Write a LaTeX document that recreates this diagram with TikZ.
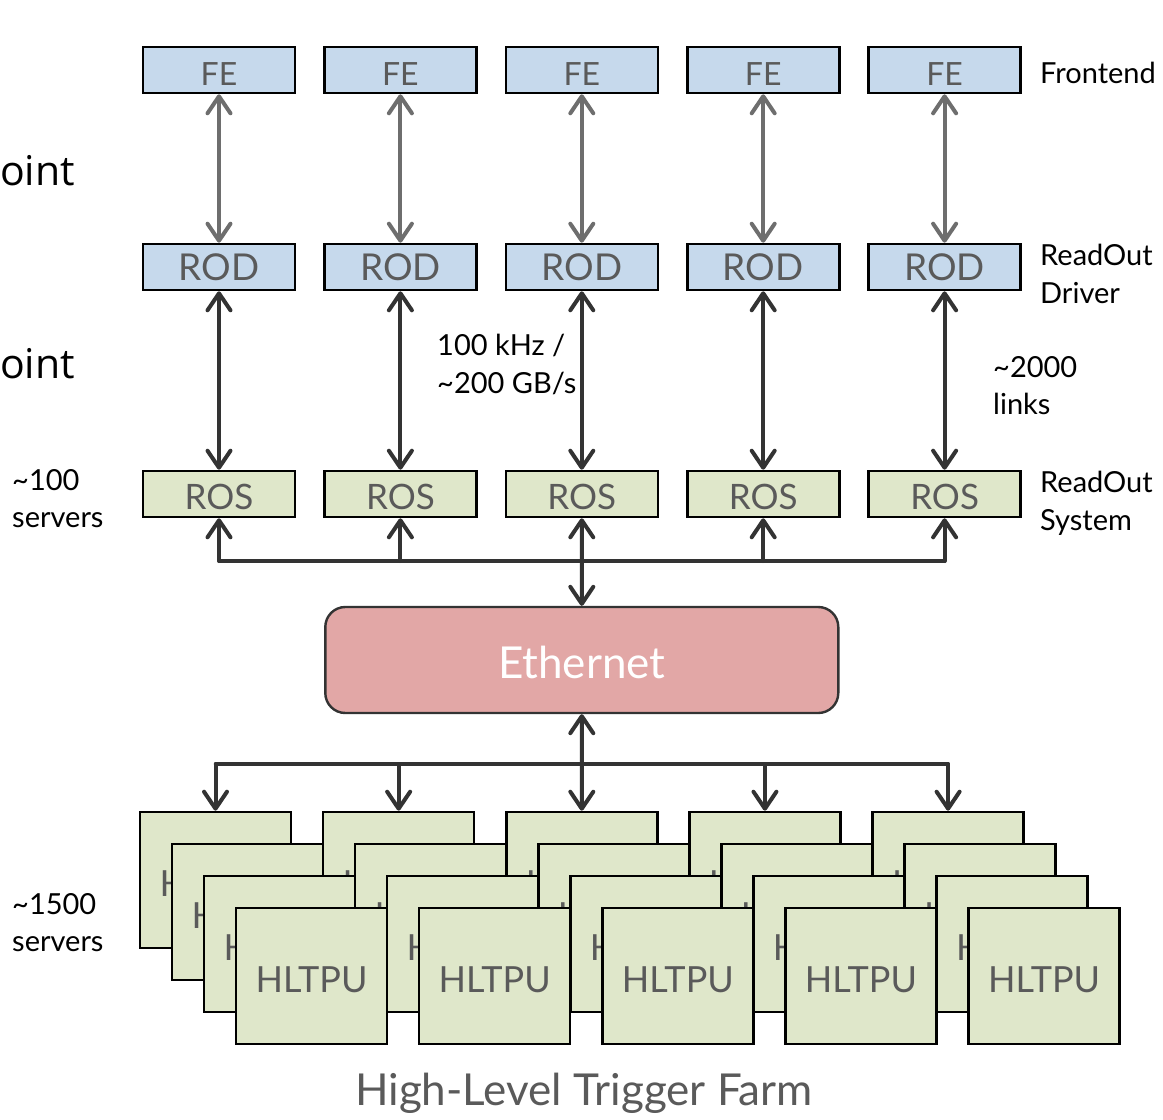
\documentclass[tikz,border=0pt]{standalone}
\usepackage{fontspec}
\setmainfont{Lato}
\newfontfamily\slidefont{Open Sans}
\usetikzlibrary{arrows.meta}

\definecolor{feblue}{HTML}{C6D9EC}
\definecolor{rosgreen}{HTML}{DFE7CA}
\definecolor{ethred}{HTML}{E2A7A6}
\definecolor{boxtext}{HTML}{5A5A5A}
\definecolor{lightarrow}{HTML}{6E6E6E}
\definecolor{darkarrow}{HTML}{333333}

\begin{document}
\begin{tikzpicture}[x=1pt, y=-1pt,
febox/.style={draw=black, line width=2.6pt, fill=feblue, minimum width=152pt, minimum height=46pt, inner sep=0pt, text=boxtext},
rosbox/.style={febox, fill=rosgreen},
pubox/.style={draw=black, line width=2.6pt, fill=rosgreen, minimum width=151pt, minimum height=136pt, inner sep=0pt, text=boxtext, text height=32pt, text depth=0pt, font=\fontsize{36}{36}\selectfont},
ethbox/.style={draw=darkarrow, line width=2.4pt, fill=ethred, rounded corners=20pt, minimum width=513pt, minimum height=106pt, text=white, text height=37pt, text depth=0pt, font=\fontsize{44}{44}\selectfont},
lbl/.style={align=left, anchor=north west, inner sep=0pt, font=\fontsize{29}{37.5}\selectfont},
lightlink/.style={line width=4pt, lightarrow, {Straight Barb[length=17pt, width=23pt, round]}-{Straight Barb[length=17pt, width=23pt, round]}},
darklink/.style={line width=4pt, darkarrow, line cap=round},
busline/.style={line width=3.5pt, darkarrow, line cap=round}
]
\useasboundingbox (0,0) rectangle (1163,1120);

% FE -> ROD -> ROS columns
\foreach \i in {1,...,5} {
  \pgfmathsetmacro\cx{219+181.4*(\i-1)}
  \node[febox, text height=30pt, text depth=0pt, font=\fontsize{32}{32}\selectfont] (fe\i) at (\cx,70) {FE};
  \node[febox, font=\fontsize{37}{37}\selectfont] (rod\i) at (\cx,267) {ROD};
  \node[rosbox, text height=30pt, text depth=0pt, font=\fontsize{35}{35}\selectfont] (ros\i) at (\cx,494) {ROS};
  \coordinate (rosbus\i) at (\cx,561);
  \draw[lightlink] (fe\i) -- (rod\i);
  \draw[darklink, {Straight Barb[length=17pt, width=23pt, round]}-{Straight Barb[length=17pt, width=23pt, round]}] (rod\i) -- (ros\i);
}

\node[ethbox] (eth) at (581.8,660) {Ethernet};

\draw[busline] (rosbus1) -- (rosbus5);
\foreach \i in {1,2,4,5}
  \draw[darklink, {Straight Barb[length=17pt, width=23pt, round]}-] (ros\i) -- (rosbus\i);
\draw[darklink, {Straight Barb[length=17pt, width=23pt, round]}-{Straight Barb[length=17pt, width=23pt, round]}] (ros3) -- (eth);

% HLT farm, drawn layer by layer
\foreach \k in {0,...,3}
  \foreach \i in {1,...,5} {
    \pgfmathsetmacro\sx{215.5+183.15*(\i-1)+32*\k}
    \pgfmathsetmacro\sy{880+32*\k}
    \node[pubox] (pu\i-\k) at (\sx,\sy) {HLTPU};
  }

\foreach \i in {1,...,5} {
  \pgfmathsetmacro\sx{215.5+183.15*(\i-1)}
  \coordinate (pubus\i) at (\sx,764);
}
\draw[busline] (pubus1) -- (pubus5);
\foreach \i in {1,2,4,5}
  \draw[darklink, -{Straight Barb[length=17pt, width=23pt, round]}] (pubus\i) -- (pu\i-0);
\draw[darklink, {Straight Barb[length=17pt, width=23pt, round]}-{Straight Barb[length=17pt, width=23pt, round]}] (eth) -- (pu3-0);

% labels
\node[lbl] (frontend) at (1040,62) {Frontend};
\node[lbl] (rodlabel) at (1040,244) {ReadOut\\Driver};
\node[lbl] (roslabel) at (1040,471) {ReadOut\\System};
\node[lbl] (links) at (993,356) {\textasciitilde2000\\links};
\node[lbl] (rate) at (437,334) {100 kHz /\\\textasciitilde200 GB/s};
\node[lbl] (rosservers) at (12,469) {\textasciitilde100\\servers};
\node[lbl] (puservers) at (12,893) {\textasciitilde1500\\servers};
\node[anchor=base west, inner sep=0pt, font=\slidefont\fontsize{41}{41}\selectfont] (point1) at (0,185) {oint};
\node[anchor=base west, inner sep=0pt, font=\slidefont\fontsize{41}{41}\selectfont] (point2) at (0,378) {oint};
\node[anchor=base, inner sep=0pt, text=boxtext, font=\fontsize{44}{44}\selectfont] (farm) at (584,1105) {High-Level Trigger Farm};

\end{tikzpicture}
\end{document}
